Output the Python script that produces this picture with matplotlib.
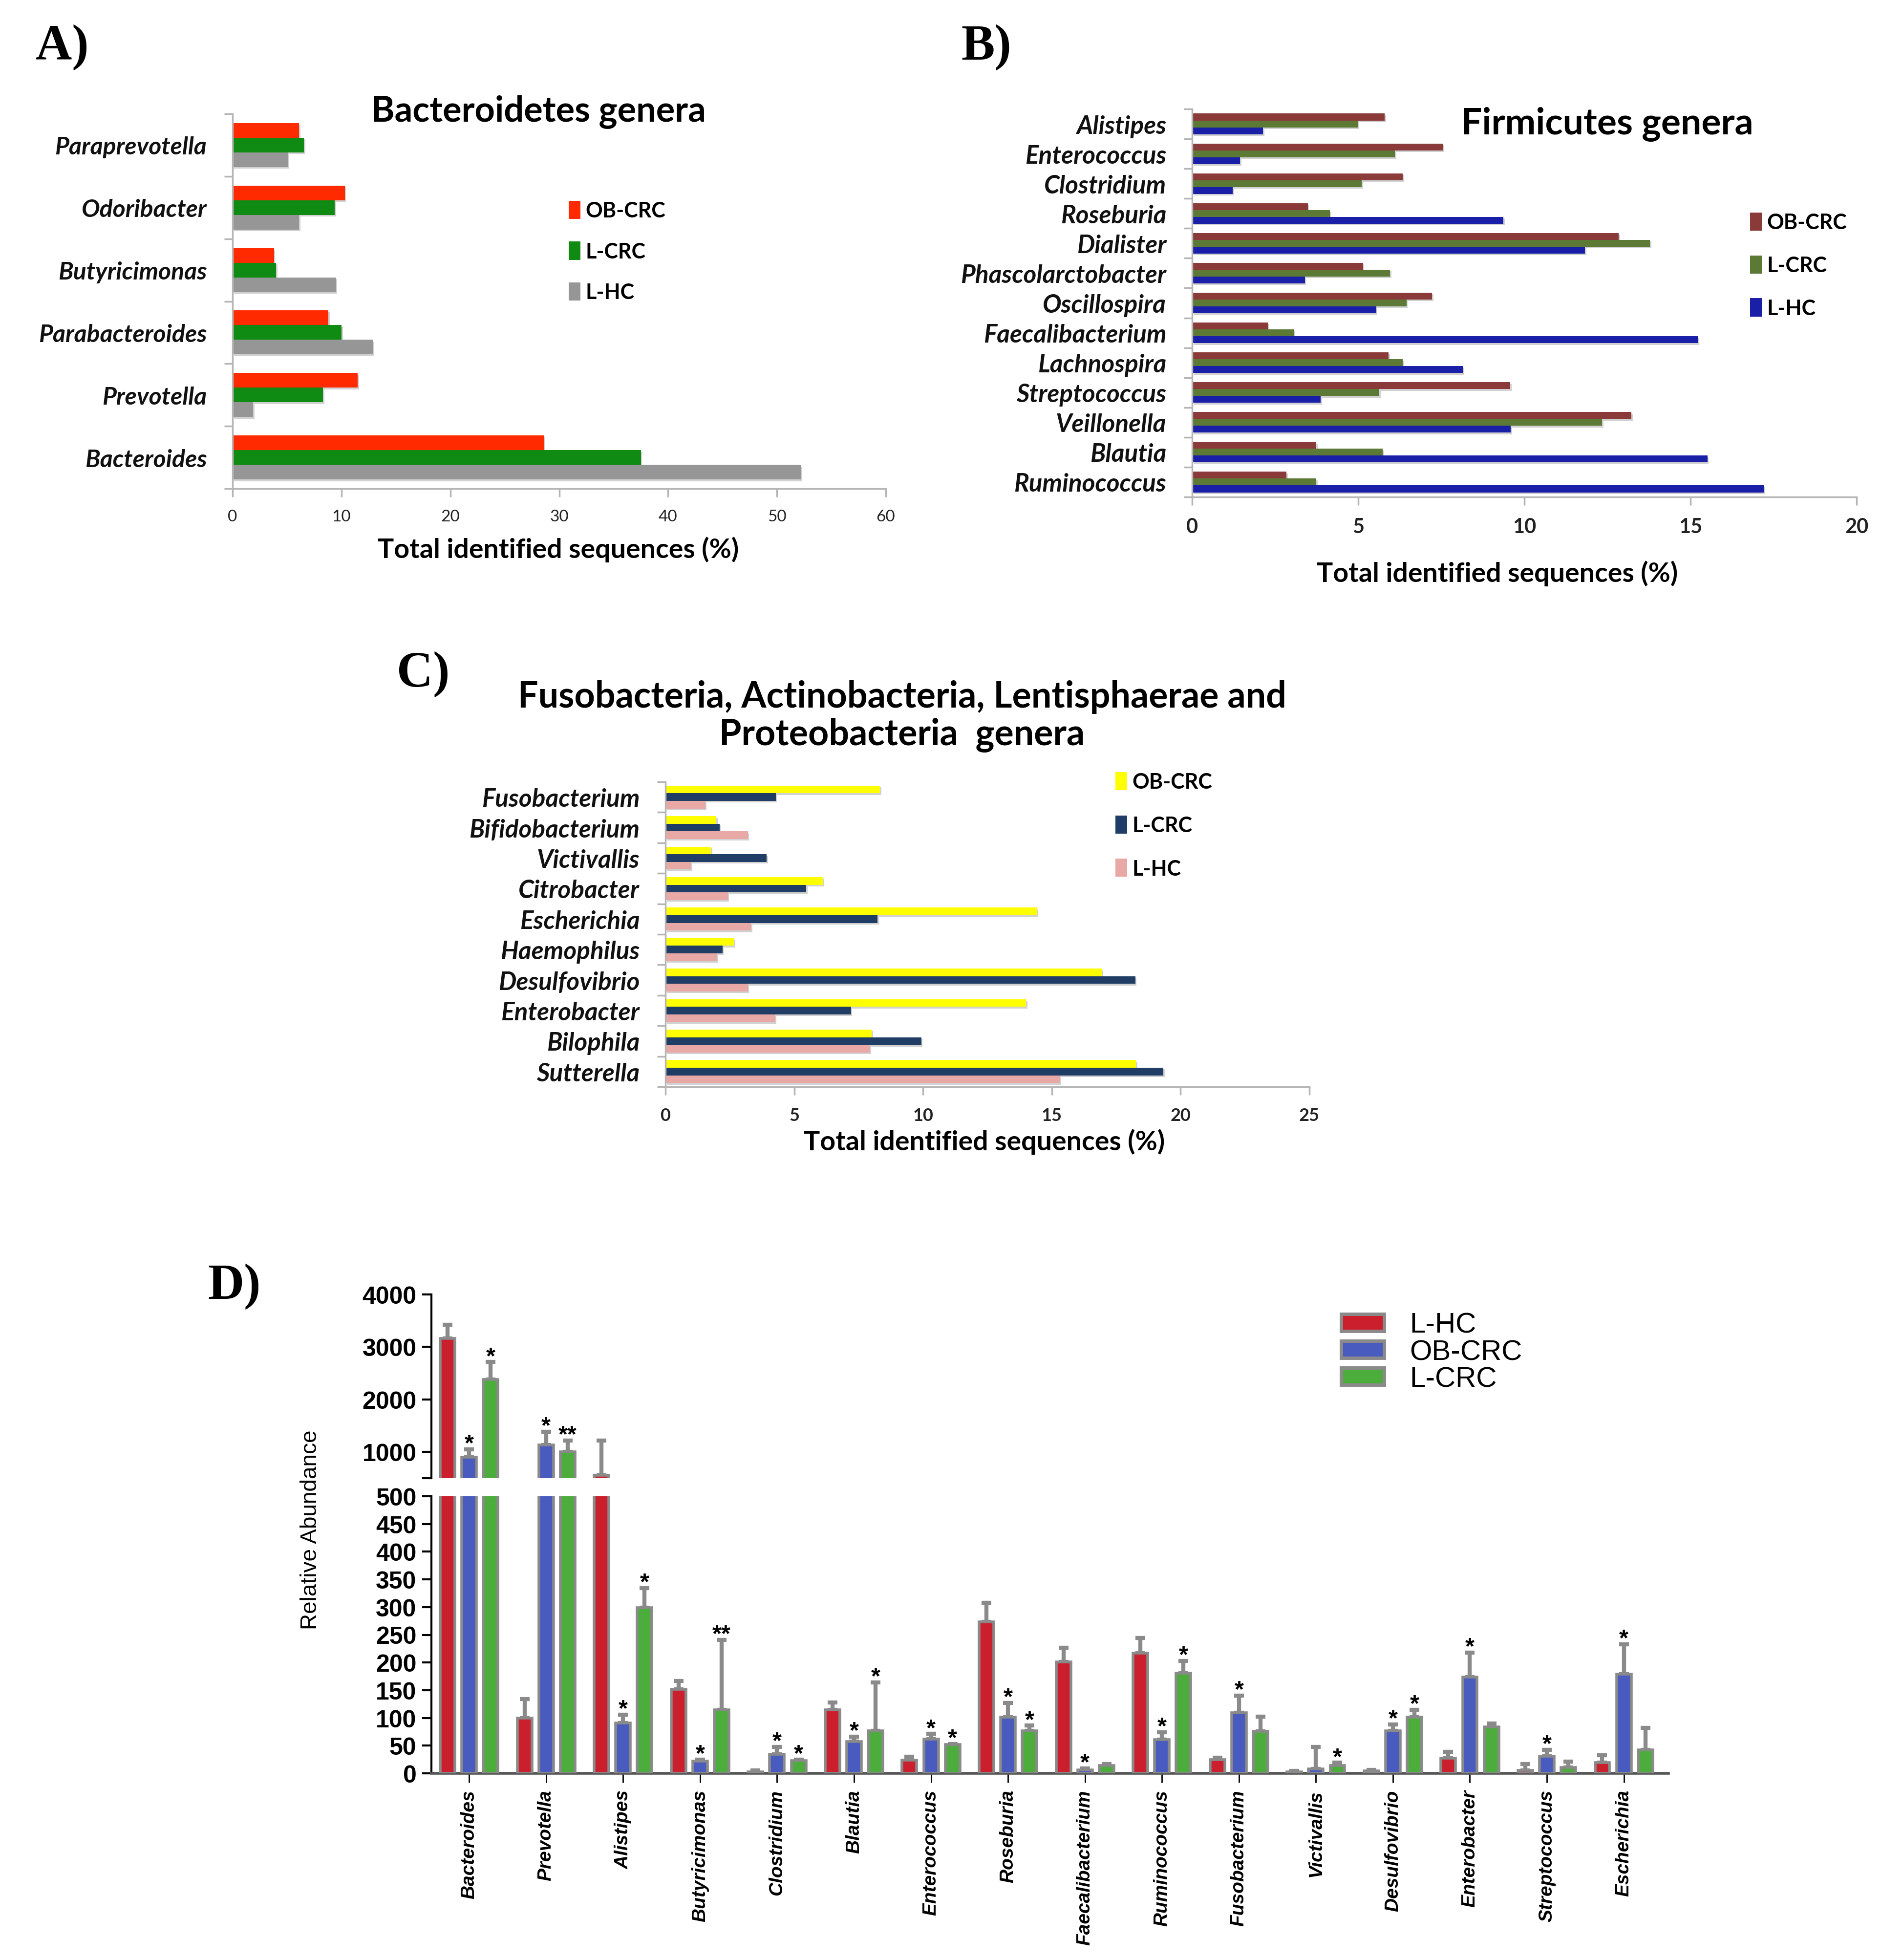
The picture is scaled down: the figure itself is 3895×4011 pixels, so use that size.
import matplotlib
matplotlib.use('Agg')
import matplotlib.pyplot as plt
import matplotlib.patheffects as pe
from matplotlib.patches import Patch
import numpy as np

W, H = 3895, 4012
DPI = 100

# ---- panel A : Bacteroidetes genera (%)
genera_a = ['Paraprevotella', 'Odoribacter', 'Butyricimonas', 'Parabacteroides', 'Prevotella', 'Bacteroides']
a_ob_crc = [6.1, 10.3, 3.8, 8.8, 11.5, 28.6]
a_l_crc = [6.55, 9.4, 4.0, 10.0, 8.3, 37.5]
a_l_hc = [5.1, 6.1, 9.5, 12.9, 1.9, 52.2]

# ---- panel B : Firmicutes genera (%)
genera_b = ['Alistipes', 'Enterococcus', 'Clostridium', 'Roseburia', 'Dialister', 'Phascolarctobacter',
            'Oscillospira', 'Faecalibacterium', 'Lachnospira', 'Streptococcus', 'Veillonella', 'Blautia',
            'Ruminococcus']
b_ob_crc = [5.8, 7.55, 6.34, 3.48, 12.84, 5.14, 7.22, 2.28, 5.91, 9.57, 13.22, 3.74, 2.84]
b_l_crc = [4.98, 6.1, 5.1, 4.14, 13.78, 5.96, 6.45, 3.06, 6.34, 5.63, 12.34, 5.74, 3.74]
b_l_hc = [2.13, 1.44, 1.22, 9.37, 11.83, 3.39, 5.54, 15.22, 8.15, 3.87, 9.59, 15.51, 17.21]

# ---- panel C : other phyla (%)
genera_c = ['Fusobacterium', 'Bifidobacterium', 'Victivallis', 'Citrobacter', 'Escherichia', 'Haemophilus',
            'Desulfovibrio', 'Enterobacter', 'Bilophila', 'Sutterella']
c_ob_crc = [8.33, 1.98, 1.77, 6.12, 14.41, 2.66, 16.95, 14.0, 8.0, 18.27]
c_l_crc = [4.28, 2.1, 3.93, 5.46, 8.24, 2.21, 18.24, 7.2, 9.93, 19.33]
c_l_hc = [1.55, 3.2, 0.99, 2.42, 3.32, 2.0, 3.2, 4.26, 7.93, 15.3]

groups_abc = ['OB-CRC', 'L-CRC', 'L-HC']

# ---- panel D : relative abundance (mean, upper sd, significance)
genera_d = ['Bacteroides', 'Prevotella', 'Alistipes', 'Butyricimonas', 'Clostridium', 'Blautia',
            'Enterococcus', 'Roseburia', 'Faecalibacterium', 'Ruminococcus', 'Fusobacterium',
            'Victivallis', 'Desulfovibrio', 'Enterobacter', 'Streptococcus', 'Escherichia']
d_l_hc = [3158, 100, 553, 152, 3, 115, 24, 273, 201, 217, 25, 3, 4, 27, 5, 19]
d_l_hc_sd = [263, 34, 664, 15, 2, 13, 6, 35, 26, 27, 3, 1, 2, 12, 12, 14]
d_ob_crc = [901, 1132, 91, 22, 34, 57, 62, 101, 6, 61, 109, 8, 77, 174, 31, 179]
d_ob_crc_sd = [152, 250, 15, 3, 14, 9, 9, 26, 3, 13, 31, 40, 11, 44, 11, 54]
d_l_crc = [2382, 1000, 299, 115, 23, 77, 52, 77, 14, 181, 76, 14, 101, 84, 11, 42]
d_l_crc_sd = [329, 217, 35, 126, 2, 87, 1, 9, 3, 22, 26, 5, 14, 6, 10, 40]
d_l_hc_sig = [''] * 16
d_ob_crc_sig = ['*', '*', '*', '*', '*', '*', '*', '*', '*', '*', '*', '', '*', '*', '*', '*']
d_l_crc_sig = ['*', '**', '*', '**', '*', '*', '*', '*', '', '*', '', '*', '*', '', '', '']
groups_d = ['L-HC', 'OB-CRC', 'L-CRC']

SANS = 'Lato'
ARIAL = 'Liberation Sans'

fig = plt.figure(figsize=(W / DPI, H / DPI), dpi=DPI)


def px_rect(left, top, right, bottom):
    return [left / W, 1 - bottom / H, (right - left) / W, (bottom - top) / H]


def fig_xy(x, y):
    return x / W, 1 - y / H


shadow = [pe.SimplePatchShadow(offset=(2, -2.5), shadow_rgbFace='#9a9a9a', alpha=0.45), pe.Normal()]


def hbar_panel(box, genera, series, colors, xmax, xstep, bar_h, label_size, tick_bold, tick_size):
    ax = fig.add_axes(px_rect(*box))
    n = len(genera)
    y = np.arange(n)[::-1]
    for k, (vals, col) in enumerate(zip(series, colors)):
        bars = ax.barh(y + (1 - k) * bar_h, vals, height=bar_h, color=col, linewidth=0)
        for b in bars:
            b.set_path_effects(shadow)
    ax.set_xlim(0, xmax)
    ax.set_ylim(-0.5, n - 0.5)
    ax.set_xticks(np.arange(0, xmax + 0.1, xstep))
    ax.set_yticks(np.arange(n + 1) - 0.5)
    ax.set_yticklabels([])
    ax.set_yticks(y, minor=True)
    ax.set_yticklabels(genera, minor=True, fontsize=label_size, fontweight='bold',
                       fontstyle='italic', family=SANS, color='#111111')
    ax.tick_params(axis='y', which='minor', length=0, pad=38)
    ax.tick_params(axis='y', which='major', length=12, width=2.5, color='#b5b5b5', direction='out')
    ax.tick_params(axis='x', length=12, width=2.5, color='#b5b5b5', direction='out', pad=18)
    for lab in ax.get_xticklabels():
        lab.set_fontsize(tick_size)
        lab.set_family(SANS)
        lab.set_fontweight('bold' if tick_bold else 'normal')
        lab.set_color('#222222')
    for side in ['top', 'right']:
        ax.spines[side].set_visible(False)
    for side in ['left', 'bottom']:
        ax.spines[side].set_color('#b5b5b5')
        ax.spines[side].set_linewidth(2.5)
    return ax


def square_legend(colors, labels, x, y, size, spacing):
    handles = [Patch(facecolor=c, edgecolor='none') for c in colors]
    fig.legend(handles, labels, loc='upper left', bbox_to_anchor=fig_xy(x, y), frameon=False,
               handlelength=0.55, handleheight=0.95, handletextpad=0.25, labelspacing=spacing,
               borderpad=0, borderaxespad=0,
               prop={'family': SANS, 'weight': 'bold', 'size': size})


# ---------------- A
hbar_panel((476, 234, 1813, 1001), genera_a, [a_ob_crc, a_l_crc, a_l_hc],
           ['#ff2a00', '#0f8a12', '#969696'], 60, 10, 0.235, 36, False, 24)
fig.text(*fig_xy(1102, 229), 'Bacteroidetes genera', ha='center', va='center',
         fontsize=52, fontweight='bold', family=SANS)
fig.text(*fig_xy(1143, 1125), 'Total identified sequences (%)', ha='center', va='center',
         fontsize=40, fontweight='bold', family=SANS)
square_legend(['#ff2a00', '#0f8a12', '#969696'], groups_abc, 1164, 412, 31, 1.0)
fig.text(*fig_xy(127, 97), 'A)', ha='center', va='center', fontsize=74, fontweight='bold',
         family='Liberation Serif')

# ---------------- B
hbar_panel((2440, 224, 3800, 1018), genera_b, [b_ob_crc, b_l_crc, b_l_hc],
           ['#8b3a3a', '#5c7a35', '#1a1fa8'], 20, 5, 0.23, 37, True, 30)
fig.text(*fig_xy(3290, 255), 'Firmicutes genera', ha='center', va='center',
         fontsize=54, fontweight='bold', family=SANS)
fig.text(*fig_xy(3065, 1174), 'Total identified sequences (%)', ha='center', va='center',
         fontsize=40, fontweight='bold', family=SANS)
square_legend(['#8b3a3a', '#5c7a35', '#1a1fa8'], groups_abc, 3582, 436, 31, 1.1)
fig.text(*fig_xy(2019, 97), 'B)', ha='center', va='center', fontsize=74, fontweight='bold',
         family='Liberation Serif')

# ---------------- C
hbar_panel((1362, 1601, 2680, 2225), genera_c, [c_ob_crc, c_l_crc, c_l_hc],
           ['#ffff00', '#203d66', '#e8a8a6'], 25, 5, 0.25, 37, True, 26)
fig.text(*fig_xy(1846, 1466), 'Fusobacteria, Actinobacteria, Lentisphaerae and\nProteobacteria  genera',
         ha='center', va='center', fontsize=53, fontweight='bold', family=SANS, linespacing=1.15)
fig.text(*fig_xy(2015, 2337), 'Total identified sequences (%)', ha='center', va='center',
         fontsize=40, fontweight='bold', family=SANS)
square_legend(['#ffff00', '#203d66', '#e8a8a6'], groups_abc, 2283, 1581, 31, 1.12)
fig.text(*fig_xy(866, 1380), 'C)', ha='center', va='center', fontsize=74, fontweight='bold',
         family='Liberation Serif')

# ---------------- D (broken y axis)
ax_top = fig.add_axes(px_rect(883, 2650, 3415, 3026))
ax_bot = fig.add_axes(px_rect(883, 3063, 3415, 3630))
x = np.arange(len(genera_d))
d_colors = ['#cc1f2e', '#4a5bc0', '#4cad3c']
edge = '#8a8a8a'
d_series = [(d_l_hc, d_l_hc_sd, d_l_hc_sig), (d_ob_crc, d_ob_crc_sd, d_ob_crc_sig),
            (d_l_crc, d_l_crc_sd, d_l_crc_sig)]
offsets = [-0.28, 0.0, 0.28]
for ax in (ax_top, ax_bot):
    for (vals, sd, sig), col, off in zip(d_series, d_colors, offsets):
        ax.bar(x + off, vals, width=0.19, color=col, edgecolor=edge, linewidth=4, zorder=3)
        ax.errorbar(x + off, vals, yerr=[np.zeros(len(vals)), sd], fmt='none', ecolor=edge,
                    elinewidth=6, capsize=7, capthick=6, zorder=2)
    ax.set_xlim(-0.49, 15.58)

for (vals, sd, sig), off in zip(d_series, offsets):
    for i, s in enumerate(sig):
        if not s:
            continue
        top = vals[i] + sd[i]
        ax = ax_top if top > 500 else ax_bot
        ax.annotate(s, (x[i] + off, top), xytext=(0, -8), textcoords='offset points',
                    ha='center', va='bottom', fontsize=35, fontweight='bold', family=ARIAL)

ax_top.set_ylim(500, 4000)
ax_top.set_yticks([500, 1000, 2000, 3000, 4000])
ax_top.set_yticklabels(['', '1000', '2000', '3000', '4000'])
ax_top.set_xticks([])
for side in ['top', 'right', 'bottom']:
    ax_top.spines[side].set_visible(False)

ax_bot.set_ylim(0, 500)
ax_bot.set_yticks(np.arange(0, 501, 50))
ax_bot.set_xticks(x)
ax_bot.set_xticklabels(genera_d, rotation=90, fontsize=28, fontweight='bold', fontstyle='italic',
                       family=ARIAL, va='top', ha='center')
for side in ['top', 'right']:
    ax_bot.spines[side].set_visible(False)
ax_bot.spines['bottom'].set_color('#555555')

for ax in (ax_top, ax_bot):
    ax.spines['left'].set_linewidth(3)
    ax.spines['bottom'].set_linewidth(4)
    ax.tick_params(axis='y', length=14, width=3, pad=8)
    ax.tick_params(axis='x', length=14, width=2, pad=10)
    for lab in ax.get_yticklabels():
        lab.set_fontsize(36)
        lab.set_fontweight('bold')
        lab.set_family(ARIAL)

fig.text(*fig_xy(636, 3131), 'Relative Abundance', rotation=90, ha='center', va='center',
         fontsize=33, family=ARIAL)

d_handles = [Patch(facecolor=c, edgecolor=edge, linewidth=5) for c in d_colors]
fig.legend(d_handles, groups_d, loc='upper left', bbox_to_anchor=fig_xy(2745, 2686), frameon=False,
           handlelength=1.5, handleheight=0.55, handletextpad=0.9, labelspacing=0.02,
           borderpad=0, borderaxespad=0, prop={'family': ARIAL, 'size': 42})
fig.text(*fig_xy(479, 2633), 'D)', ha='center', va='center', fontsize=74, fontweight='bold',
         family='Liberation Serif')

fig.savefig('out.png', dpi=DPI)
